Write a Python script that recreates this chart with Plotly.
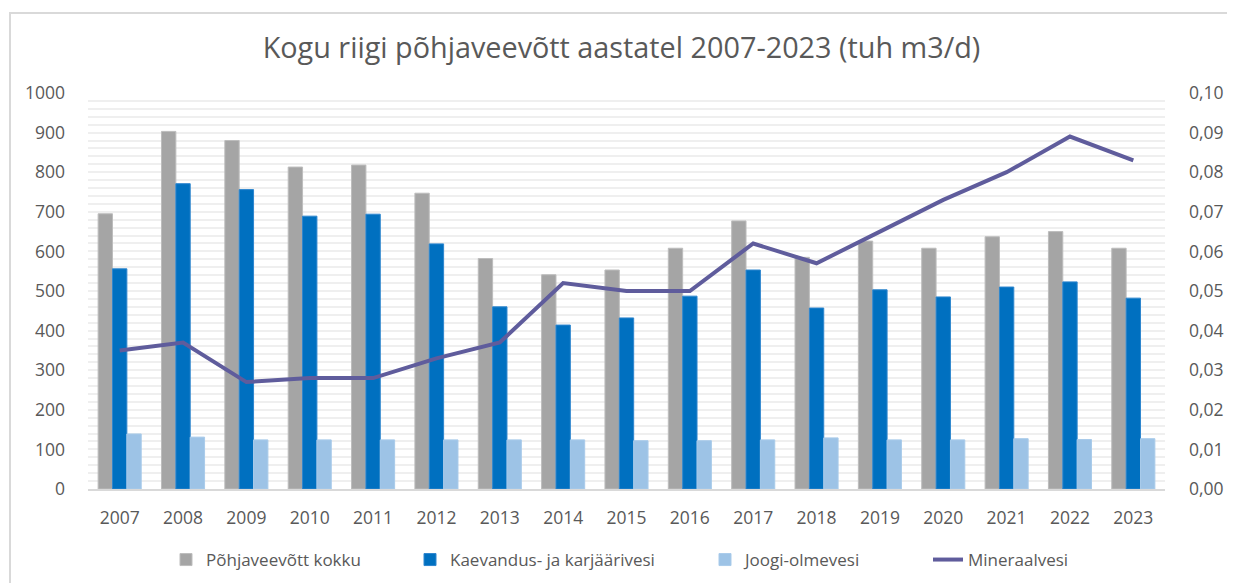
import plotly.graph_objects as go

years = [str(y) for y in range(2007, 2024)]
kokku = [695, 903, 880, 813, 818, 747, 582, 541, 553, 608, 677, 585, 626, 608, 637, 650, 608]
kaevandus = [556, 771, 756, 689, 694, 619, 460, 414, 432, 487, 553, 457, 503, 485, 510, 523, 482]
joogi = [139, 131, 124, 124, 124, 124, 124, 124, 122, 122, 124, 129, 124, 124, 127, 125, 127]
mineraal = [0.035, 0.037, 0.027, 0.028, 0.028, 0.033, 0.037, 0.052, 0.050, 0.050,
            0.062, 0.057, 0.065, 0.073, 0.080, 0.089, 0.083]

txt = "#595959"
font_family = "Open Sans, Lato, sans-serif"

# page body has an 8px margin, so figure is 8px smaller than the window
W, H = 1227, 575
L, T = 80, 85
PW, PH = 1077, 396
R = W - L - PW
B = H - T - PH


def px_to_paper_x(sx):
    return (sx - 8 - L) / PW


def px_to_paper_y(sy):
    return (T + PH - (sy - 8)) / PH


fig = go.Figure()
fig.add_trace(go.Bar(x=years, y=kokku, name="Põhjaveevõtt kokku", legend="legend",
                     showlegend=True,
                     marker=dict(color="#A5A5A5", line=dict(color="#BDBDBD", width=1))))
fig.add_trace(go.Bar(x=years, y=kaevandus, name="Kaevandus- ja karjäärivesi", legend="legend2",
                     showlegend=True,
                     marker=dict(color="#0070C0", line=dict(color="#2E86CE", width=1))))
fig.add_trace(go.Bar(x=years, y=joogi, name="Joogi-olmevesi", legend="legend3",
                     showlegend=True,
                     marker=dict(color="#9DC3E6", line=dict(color="#A9CBEA", width=1))))
fig.add_trace(go.Scatter(x=years, y=mineraal, name="Mineraalvesi", yaxis="y2", legend="legend4",
                         showlegend=True,
                         mode="lines", line=dict(color="#5F5C9C", width=4)))

leg_y = px_to_paper_y(560)
leg_common = dict(orientation="h", yanchor="middle", y=leg_y, xanchor="left",
                  font=dict(size=17, color=txt), itemwidth=30, bgcolor="rgba(0,0,0,0)")
# legend box left edge in the window (text starts ~40px to the right)
leg_x = [166, 410, 705, 928]

fig.update_layout(
    width=W, height=H,
    showlegend=True,
    margin=dict(l=L, r=R, t=T, b=B, autoexpand=False),
    paper_bgcolor="white", plot_bgcolor="white",
    separators=", ",
    font=dict(family=font_family, color=txt, size=17),
    title=dict(text="Kogu riigi põhjaveevõtt aastatel 2007-2023 (tuh m3/d)",
               x=0.5, xanchor="center", y=1 - 40 / H, yanchor="middle",
               font=dict(size=28.8, color=txt, family=font_family)),
    barmode="group", bargap=0.32, bargroupgap=0,
    xaxis=dict(type="category", showline=True, linecolor="#D9D9D9", linewidth=2,
               ticks="", tickfont=dict(size=17.5, color=txt), showgrid=False,
               automargin=False, ticklabelstandoff=12),
    yaxis=dict(range=[0, 1000], dtick=100, showgrid=True, gridcolor="#EFEFEF", gridwidth=2,
               tickfont=dict(size=17.5, color=txt), zeroline=False, ticklabelstandoff=22,
               automargin=False,
               minor=dict(dtick=20, showgrid=True, gridcolor="#EFEFEF", gridwidth=2)),
    yaxis2=dict(range=[0, 0.1], dtick=0.01, tickformat=".2f", overlaying="y", side="right",
                showgrid=False, zeroline=False, tickfont=dict(size=17.5, color=txt),
                ticklabelstandoff=23, automargin=False),
    legend=dict(x=px_to_paper_x(leg_x[0]), visible=True, **leg_common),
    legend2=dict(x=px_to_paper_x(leg_x[1]), **leg_common),
    legend3=dict(x=px_to_paper_x(leg_x[2]), **leg_common),
    legend4=dict(x=px_to_paper_x(leg_x[3]), **leg_common),
    shapes=[dict(type="rect", xref="paper", yref="paper",
                 x0=px_to_paper_x(10), x1=px_to_paper_x(1260),
                 y0=px_to_paper_y(600), y1=px_to_paper_y(13),
                 line=dict(color="#D9D9D9", width=2), layer="below")],
)

fig.write_html("out.html")
